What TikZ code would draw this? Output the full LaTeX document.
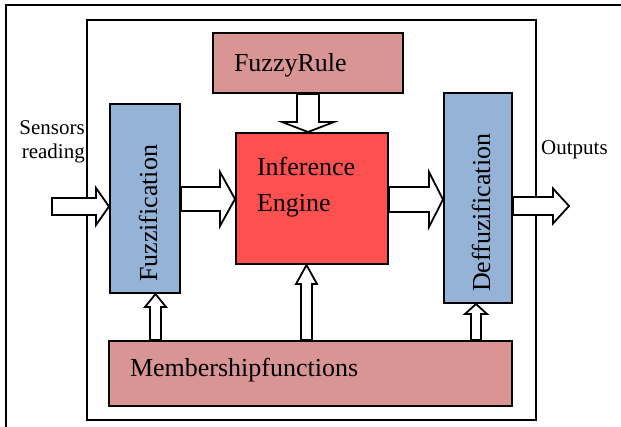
\documentclass[tikz,border=0pt]{standalone}
\usepackage{fontspec}
\setmainfont{Liberation Serif}
\usetikzlibrary{calc}
\definecolor{rulePink}{HTML}{D99594}
\definecolor{stageBlue}{HTML}{95B3D7}
\definecolor{engineRed}{HTML}{FF5050}
\tikzset{
  boxPink/.style={rectangle, draw=black, line width=2pt, fill=rulePink,
                  inner sep=0pt, align=left, font=\fontsize{26}{36}\selectfont},
  boxBlue/.style={rectangle, draw=black, line width=2pt, fill=stageBlue,
                  inner sep=0pt, align=left, font=\fontsize{26}{36}\selectfont},
  boxRed/.style={rectangle, draw=black, line width=2pt, fill=engineRed,
                 inner sep=0pt, align=left, font=\fontsize{26}{36}\selectfont},
  blockarrow/.style={draw=black, fill=white, line width=1.8pt, line join=miter},
  frame/.style={draw=black, line width=2pt},
  sideText/.style={inner sep=0pt, font=\fontsize{21}{24}\selectfont},
}
% horizontal block arrow: from, to, y, half shaft, half head, head length
\newcommand{\blockH}[6]{%
  \draw[blockarrow] let \p1=(#1), \p2=(#2), \p3=(0,#3) in
    (\x1,{\y3+#4pt}) -- ({\x2-#6pt},{\y3+#4pt}) -- ({\x2-#6pt},{\y3+#5pt}) -- (\x2,\y3)
    -- ({\x2-#6pt},{\y3-#5pt}) -- ({\x2-#6pt},{\y3-#4pt}) -- (\x1,{\y3-#4pt}) -- cycle;}
% vertical block arrow: from, to, x, half shaft, half head, head length (signed)
\newcommand{\blockV}[6]{%
  \draw[blockarrow] let \p1=(#1), \p2=(#2), \p3=(#3,0) in
    ({\x3+#4pt},\y1) -- ({\x3+#4pt},{\y2-(#6pt)}) -- ({\x3+#5pt},{\y2-(#6pt)}) -- (\x3,\y2)
    -- ({\x3-#5pt},{\y2-(#6pt)}) -- ({\x3-#4pt},{\y2-(#6pt)}) -- ({\x3-#4pt},\y1) -- cycle;}

\begin{document}
\begin{tikzpicture}[x=1pt, y=-1pt]
  \useasboundingbox (0,0) rectangle (621,427);
  \fill[white] (0,0) rectangle (621,427);
  \draw[frame] (6,427) -- (6,5) -- (621,5);
  \draw[frame] (87,20) rectangle (536,420);

  \node[boxPink, minimum width=190pt, minimum height=60pt, text width=148pt,
        text height=18pt, text depth=0pt] (rule) at (308,63) {FuzzyRule};
  \node[boxRed, minimum width=152pt, minimum height=131pt, text width=110pt,
        text depth=65pt] (inf) at (312,198.5) {Inference\\Engine};
  \node[boxBlue, rotate=90, minimum width=189pt, minimum height=70pt, text width=167pt,
        text height=24pt, text depth=0pt] (fuz) at (145,198.5) {Fuzzification};
  \node[boxBlue, rotate=90, minimum width=210pt, minimum height=68pt, text width=188pt,
        text height=24pt, text depth=0pt] (def) at (478,198) {Deffuzification};
  \node[boxPink, minimum width=403pt, minimum height=65pt, text width=361pt,
        text height=10pt, text depth=3pt] (memb) at (310.5,373.5) {Membershipfunctions};

  \node[sideText, align=right, anchor=north east] (sensT) at (85,120) {Sensors\\reading};
  \node[sideText, anchor=base west] (outT) at (541,155) {Outputs};
  \coordinate (sens) at (52,206.5);
  \coordinate (out) at (569,206);

  \blockH{sens}{fuz.north}{206.5}{8.5}{18.5}{13}
  \blockH{fuz.south}{inf.west}{199}{12}{27}{15}
  \blockH{inf.east}{def.north}{199.5}{12.5}{27.5}{14}
  \blockH{def.south}{out}{206}{9}{17.5}{16}
  \blockV{rule.south}{inf.north}{308}{11}{26}{-10}
  \blockV{memb.north}{fuz.west}{155.5}{5.5}{10.5}{13}
  \blockV{memb.north}{inf.south}{306.5}{5.5}{10.5}{19}
  \blockV{memb.north}{def.west}{476}{5}{11}{10}
\end{tikzpicture}
\end{document}
